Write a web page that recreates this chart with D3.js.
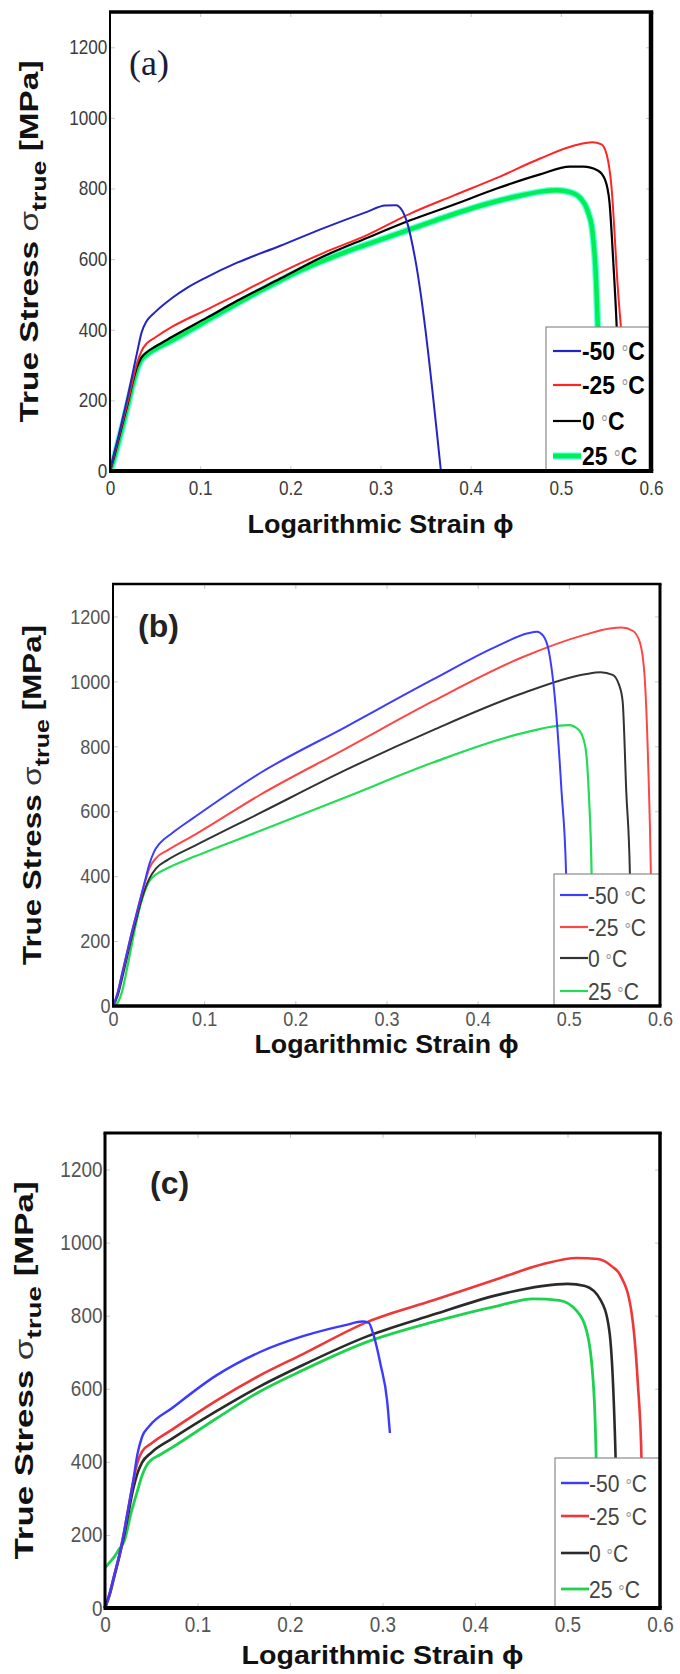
<!DOCTYPE html>
<html><head><meta charset="utf-8">
<script src="https://cdn.jsdelivr.net/npm/d3@7"></script>
<style>body{margin:0;background:#fff}svg{display:block}</style>
</head><body>
<svg id="chart" width="680" height="1674"></svg>
<script>
// ---------- data ----------
const xTicks = [0, 0.1, 0.2, 0.3, 0.4, 0.5, 0.6];
const xTickLabels = ["0", "0.1", "0.2", "0.3", "0.4", "0.5", "0.6"];
const yTicks = [0, 200, 400, 600, 800, 1000, 1200];
const yTickLabels = ["0", "200", "400", "600", "800", "1000", "1200"];
const legendTemps = ["-50", "-25", "0", "25"];
const panelLetters = ["(a)", "(b)", "(c)"];

// panel (a)  [strain, true stress MPa]
const a_m50 = [[0,0],[0.005,55],[0.01,105],[0.015,160],[0.02,215],[0.025,275],[0.03,335],[0.035,392],[0.04,422],[0.045,438],[0.05,450],[0.06,472],[0.07,492],[0.085,518],[0.108,550],[0.141,590],[0.189,638],[0.237,688],[0.285,734],[0.305,752],[0.317,753],[0.324,738],[0.33,700],[0.338,607],[0.367,0]];
const a_m25 = [[0,0],[0.005,50],[0.01,100],[0.015,150],[0.02,200],[0.025,255],[0.03,305],[0.035,340],[0.041,362],[0.05,378],[0.07,410],[0.108,458],[0.146,506],[0.189,562],[0.237,618],[0.285,668],[0.333,729],[0.381,780],[0.429,830],[0.477,885],[0.515,922],[0.535,931],[0.545,925],[0.551,895],[0.556,810],[0.563,526],[0.570,280],[0.575,0]];
const a_0 = [[0,0],[0.005,45],[0.01,95],[0.015,145],[0.02,195],[0.025,250],[0.03,295],[0.035,322],[0.041,337],[0.05,352],[0.069,380],[0.108,435],[0.141,482],[0.189,545],[0.237,608],[0.285,660],[0.333,710],[0.381,754],[0.429,800],[0.477,840],[0.510,862],[0.525,862],[0.541,851],[0.549,825],[0.554,760],[0.558,600],[0.562,405],[0.567,0]];
const a_25 = [[0,0],[0.005,40],[0.01,88],[0.015,138],[0.02,190],[0.025,243],[0.03,288],[0.035,316],[0.041,330],[0.05,345],[0.069,370],[0.117,440],[0.165,508],[0.213,570],[0.261,620],[0.309,663],[0.357,706],[0.405,747],[0.453,779],[0.48,792],[0.496,795],[0.510,790],[0.522,772],[0.530,735],[0.535,680],[0.539,547],[0.541,410],[0.545,0]];

// panel (b)
const b_m50 = [[0,0],[0.005,40],[0.01,100],[0.015,160],[0.02,220],[0.025,275],[0.03,330],[0.035,385],[0.04,438],[0.045,475],[0.051,500],[0.065,533],[0.09,583],[0.161,717],[0.256,861],[0.351,1006],[0.423,1111],[0.455,1148],[0.465,1153],[0.472,1140],[0.478,1094],[0.485,939],[0.492,661],[0.497,406],[0.50,0]];
const b_m25 = [[0,0],[0.005,40],[0.01,100],[0.015,160],[0.02,220],[0.025,275],[0.03,330],[0.035,380],[0.04,425],[0.047,455],[0.06,480],[0.09,528],[0.161,650],[0.256,794],[0.351,939],[0.447,1072],[0.518,1144],[0.545,1163],[0.558,1166],[0.570,1156],[0.578,1120],[0.583,1020],[0.587,750],[0.590,406],[0.592,0]];
const b_0 = [[0,0],[0.005,30],[0.01,85],[0.015,145],[0.02,205],[0.025,260],[0.03,315],[0.035,360],[0.04,393],[0.047,423],[0.06,450],[0.09,494],[0.161,594],[0.256,728],[0.351,850],[0.447,961],[0.518,1022],[0.535,1028],[0.548,1020],[0.555,990],[0.559,939],[0.563,661],[0.567,406],[0.569,0]];
const b_25 = [[0,0],[0.005,10],[0.01,45],[0.015,110],[0.02,180],[0.025,250],[0.03,310],[0.035,355],[0.04,385],[0.047,405],[0.06,425],[0.09,461],[0.161,539],[0.256,644],[0.351,750],[0.447,839],[0.49,864],[0.500,865],[0.511,850],[0.518,800],[0.522,650],[0.525,406],[0.527,0]];

// panel (c)
const c_m50 = [[0,0],[0.005,40],[0.01,90],[0.015,140],[0.02,200],[0.025,270],[0.03,340],[0.035,420],[0.04,468],[0.048,498],[0.073,548],[0.12,636],[0.167,700],[0.214,744],[0.261,775],[0.278,784],[0.285,781],[0.29,750],[0.298,665],[0.305,567],[0.308,479]];
const c_m25 = [[0,0],[0.005,40],[0.01,90],[0.015,140],[0.02,200],[0.025,270],[0.03,340],[0.035,398],[0.04,428],[0.05,450],[0.073,489],[0.12,567],[0.167,636],[0.214,695],[0.284,783],[0.355,842],[0.425,901],[0.472,940],[0.51,958],[0.533,955],[0.548,935],[0.557,911],[0.569,813],[0.576,616],[0.58,410],[0.583,0]];
const c_0 = [[0,0],[0.005,35],[0.01,85],[0.015,135],[0.02,190],[0.025,255],[0.03,320],[0.035,368],[0.04,398],[0.05,425],[0.073,464],[0.12,538],[0.167,606],[0.214,665],[0.284,744],[0.355,803],[0.425,857],[0.472,881],[0.50,887],[0.519,881],[0.536,842],[0.545,763],[0.55,567],[0.552,410],[0.555,0]];
const c_25 = [[0,110],[0.005,125],[0.01,140],[0.015,160],[0.021,185],[0.028,258],[0.035,320],[0.04,362],[0.047,398],[0.06,420],[0.073,440],[0.12,518],[0.167,592],[0.214,651],[0.284,729],[0.355,783],[0.425,827],[0.463,846],[0.491,842],[0.51,813],[0.522,744],[0.529,567],[0.531,410],[0.534,0]];

// ---------- layout / style ----------
const panels = [
  { box:{l:110,t:12,r:651,b:471}, series:[a_m50,a_m25,a_0,a_25],
    colors:["#2424c4","#ff2424","#000000","#00ee55"], widths:[2,2,2.2,4.5], halo:"#40ffd8",
    frame:{t:3.5,r:4.5,b:4,l:2}, tickFont:20, tickFill:"#3c3c3c", xPad:10,
    leg:{l:546,t:327,ys:[351,385,421,456],x1:553,x2:581,tx:582,font:26,weight:"bold",fill:"#000"},
    lab:{x:129,y:75,font:"'Liberation Serif','Times New Roman',serif",size:36,weight:"normal",fill:"#1c1c38"},
    ylab:{x:29,len:362}, xlab:{y:533,len:266} },
  { box:{l:113,t:584,r:660,b:1006}, series:[b_m50,b_m25,b_0,b_25],
    colors:["#3c3cff","#ff4646","#333333","#22dd55"], widths:[2,2,2,2.2],
    frame:{t:2.5,r:3,b:3.5,l:2}, tickFont:21, tickFill:"#555", xPad:5,
    leg:{l:554,t:874,ys:[895,927,958,991],x1:560,x2:588,tx:588,font:24,weight:"normal",fill:"#444"},
    lab:{x:138,y:637,font:"'Liberation Sans',Arial,sans-serif",size:32,weight:"bold",fill:"#222"},
    ylab:{x:32,len:340}, xlab:{y:1053,len:264} },
  { box:{l:105,t:1133,r:660,b:1608}, series:[c_m50,c_m25,c_0,c_25],
    colors:["#3b3bff","#ee3838","#2a2a2a","#1ed24f"], widths:[2.4,2.6,2.6,2.8],
    frame:{t:3,r:3.5,b:4,l:3}, tickFont:22, tickFill:"#555", xPad:8,
    leg:{l:555,t:1458,ys:[1483,1516,1553,1589],x1:561,x2:589,tx:589,font:24,weight:"normal",fill:"#444"},
    lab:{x:150,y:1194,font:"'Liberation Sans',Arial,sans-serif",size:32,weight:"bold",fill:"#222"},
    ylab:{x:24,len:378}, xlab:{y:1664,len:282} }
];

const svg = d3.select("#chart");
svg.append("rect").attr("width",680).attr("height",1674).attr("fill","#fff");
const SANS = "'Liberation Sans',Arial,Helvetica,sans-serif";

panels.forEach((p, pi) => {
  const B = p.box;
  const x = d3.scaleLinear().domain([0,0.6]).range([B.l,B.r]);
  const y = d3.scaleLinear().domain([0,1300]).range([B.b,B.t]);
  const g = svg.append("g");

  const cid = "clip"+pi;
  svg.append("clipPath").attr("id",cid).append("rect")
    .attr("x",B.l).attr("y",B.t).attr("width",B.r-B.l).attr("height",B.b-B.t);

  const tickCol = "#c8c8c8";
  g.append("g").attr("transform",`translate(0,${B.b})`)
    .call(d3.axisBottom(x).tickValues(xTicks).tickSizeInner(-5).tickSizeOuter(0).tickFormat((d,i)=>xTickLabels[i]).tickPadding(p.xPad))
    .call(s=>{s.select(".domain").remove(); s.selectAll("line").attr("stroke",tickCol);
      s.selectAll("text").attr("font-family",SANS).attr("font-size",p.tickFont).attr("fill",p.tickFill)
        .attr("transform","scale(0.86,1)");});
  g.append("g").attr("transform",`translate(${B.l},0)`)
    .call(d3.axisLeft(y).tickValues(yTicks).tickSizeInner(-5).tickSizeOuter(0).tickFormat((d,i)=>yTickLabels[i]).tickPadding(3))
    .call(s=>{s.select(".domain").remove(); s.selectAll("line").attr("stroke",tickCol);
      s.selectAll("text").attr("font-family",SANS).attr("font-size",p.tickFont).attr("fill",p.tickFill)
        .attr("transform","scale(0.86,1)");});
  g.append("g").attr("transform",`translate(0,${B.t})`)
    .call(d3.axisTop(x).tickValues(xTicks).tickSizeInner(-5).tickSizeOuter(0).tickFormat(""))
    .call(s=>{s.select(".domain").remove(); s.selectAll("line").attr("stroke",tickCol);});
  g.append("g").attr("transform",`translate(${B.r},0)`)
    .call(d3.axisRight(y).tickValues(yTicks).tickSizeInner(-5).tickSizeOuter(0).tickFormat(""))
    .call(s=>{s.select(".domain").remove(); s.selectAll("line").attr("stroke",tickCol);});

  const line = d3.line().x(d=>x(d[0])).y(d=>y(d[1])).curve(d3.curveMonotoneX);
  const cg = g.append("g").attr("clip-path",`url(#${cid})`);
  [3,2,1,0].forEach(i=>{
    if (i===3 && p.halo) {
      cg.append("path").datum(p.series[i]).attr("d",line).attr("fill","none")
        .attr("stroke",p.halo).attr("stroke-width",p.widths[i]+2.5).attr("stroke-linejoin","round").attr("opacity",0.8);
    }
    cg.append("path").datum(p.series[i]).attr("d",line).attr("fill","none")
      .attr("stroke",p.colors[i]).attr("stroke-width",p.widths[i]).attr("stroke-linejoin","round");
  });

  const L = p.leg;
  g.append("rect").attr("x",L.l).attr("y",L.t).attr("width",B.r-L.l).attr("height",B.b-L.t)
    .attr("fill","#fff").attr("stroke","#8a8a8a").attr("stroke-width",1.2);
  legendTemps.forEach((t,i)=>{
    if (i===3 && p.halo) {
      g.append("line").attr("x1",L.x1).attr("x2",L.x2).attr("y1",L.ys[i]).attr("y2",L.ys[i])
        .attr("stroke",p.halo).attr("stroke-width",p.widths[i]+2.5);
    }
    g.append("line").attr("x1",L.x1).attr("x2",L.x2).attr("y1",L.ys[i]).attr("y2",L.ys[i])
      .attr("stroke",p.colors[i]).attr("stroke-width",Math.max(p.widths[i],2.2));
    const tx = g.append("text").attr("transform",`translate(${L.tx},${L.ys[i]}) scale(0.88,1)`)
      .attr("dy","0.36em").attr("font-family",SANS).attr("font-size",L.font)
      .attr("font-weight",L.weight).attr("fill",L.fill);
    tx.append("tspan").text(t+" ");
    tx.append("tspan").text("°").attr("fill","#999").attr("font-weight","normal").attr("font-size",L.font*0.75);
    tx.append("tspan").text("C");
  });

  const F = p.frame;
  g.append("line").attr("x1",B.l-F.l/2).attr("x2",B.r+F.r/2).attr("y1",B.t).attr("y2",B.t).attr("stroke","#000").attr("stroke-width",F.t);
  g.append("line").attr("x1",B.l-F.l/2).attr("x2",B.r+F.r/2).attr("y1",B.b).attr("y2",B.b).attr("stroke","#000").attr("stroke-width",F.b);
  g.append("line").attr("x1",B.l).attr("x2",B.l).attr("y1",B.t).attr("y2",B.b).attr("stroke","#000").attr("stroke-width",F.l);
  g.append("line").attr("x1",B.r).attr("x2",B.r).attr("y1",B.t).attr("y2",B.b).attr("stroke","#000").attr("stroke-width",F.r);

  g.append("text").attr("x",p.lab.x).attr("y",p.lab.y).attr("font-family",p.lab.font)
    .attr("font-size",p.lab.size).attr("font-weight",p.lab.weight).attr("fill",p.lab.fill).text(panelLetters[pi]);

  g.append("text").attr("x",(B.l+B.r)/2).attr("y",p.xlab.y).attr("text-anchor","middle")
    .attr("font-family",SANS).attr("font-size",25).attr("font-weight","bold").attr("fill","#111")
    .attr("textLength",p.xlab.len).attr("lengthAdjust","spacingAndGlyphs")
    .text("Logarithmic Strain ϕ");

  const cy = (B.t+B.b)/2;
  const yl = g.append("text").attr("transform",`translate(${p.ylab.x+9},${cy}) rotate(-90)`)
    .attr("text-anchor","middle").attr("font-family",SANS).attr("font-size",25)
    .attr("font-weight","bold").attr("fill","#111")
    .attr("textLength",p.ylab.len).attr("lengthAdjust","spacingAndGlyphs");
  yl.append("tspan").text("True Stress ");
  yl.append("tspan").text("σ").attr("font-weight","normal").attr("fill","#333");
  yl.append("tspan").text("true").attr("font-size",20).attr("dy",8);
  yl.append("tspan").text(" [MPa]").attr("dy",-8);
});
</script>
</body></html>
